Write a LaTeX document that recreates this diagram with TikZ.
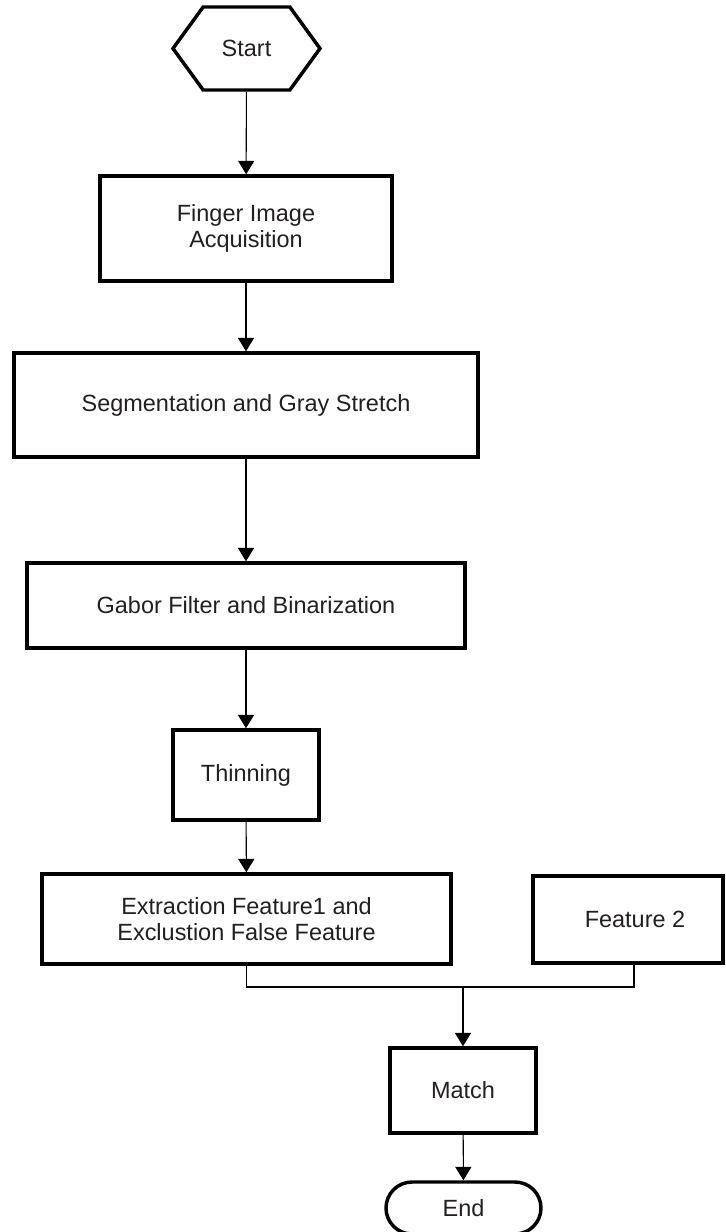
\documentclass[tikz,border=0pt]{standalone}
\usepackage{fontspec}
\setmainfont{Liberation Sans}
\usetikzlibrary{arrows.meta,shapes.symbols,shapes.misc}
\definecolor{inkgray}{RGB}{35,31,32}

\begin{document}
\begin{tikzpicture}[x=0.75pt,y=0.75pt,yscale=-1,xscale=1,
  box/.style={draw=black,line width=2.6pt,text=inkgray,align=center,inner sep=0.75pt,
    font=\fontsize{17.6}{19.5}\selectfont},
  startbox/.style={box,signal,signal to=west and east,signal pointer angle=108,
    minimum width=110.25pt,minimum height=62.25pt},
  endbox/.style={box,rounded rectangle,minimum width=117.75pt,minimum height=39pt},
  link/.style={draw=black,line width=0.8pt},
  flow/.style={link,-{Triangle[width=12pt,length=10pt]}}]
\useasboundingbox (0,0) rectangle (725,1232);

%Shape: Hexagon [id:start]
\node [startbox] (start) at (246.5,48.5) {Start};
%Shape: Rectangle [id:acquire]
\node [box,minimum width=219pt,minimum height=78.75pt] (acquire) at (246,228.5) {Finger Image\\Acquisition};
%Shape: Rectangle [id:segment]
\node [box,minimum width=348pt,minimum height=78pt] (segment) at (246,405) {Segmentation and Gray Stretch};
%Shape: Rectangle [id:gabor]
\node [box,minimum width=328.5pt,minimum height=63.75pt] (gabor) at (246,605.5) {Gabor Filter and Binarization};
%Shape: Rectangle [id:thin]
\node [box,minimum width=109.5pt,minimum height=67.5pt] (thin) at (246,775) {Thinning};
%Shape: Rectangle [id:extract]
\node [box,minimum width=306.75pt,minimum height=67.5pt] (extract) at (246.5,919) {Extraction Feature1 and\\Exclustion False Feature};
%Shape: Rectangle [id:feature]
\node [box,minimum width=142.5pt,minimum height=65.25pt] (feature) at (628,919.5) {\hspace*{10.5pt}Feature 2};
%Shape: Rectangle [id:match]
\node [box,minimum width=109.5pt,minimum height=63.75pt] (match) at (463,1090.5) {Match};
%Shape: Terminal [id:finish]
\node [endbox] (finish) at (463.5,1208) {End};

%Straight Lines
\draw [flow] (start) -- (acquire);
\draw [flow] (acquire) -- (segment);
\draw [flow] (segment) -- (gabor);
\draw [flow] (gabor) -- (thin);
\draw [flow] (thin) -- (extract);
%Elbow Lines [id:join]
\coordinate (join) at (463,987);
\draw [link] (extract.south) |- (join) -| ([xshift=4.5pt]feature.south);
\draw [flow] (join) -- (match);
\draw [flow] (match) -- (finish);

\end{tikzpicture}
\end{document}
